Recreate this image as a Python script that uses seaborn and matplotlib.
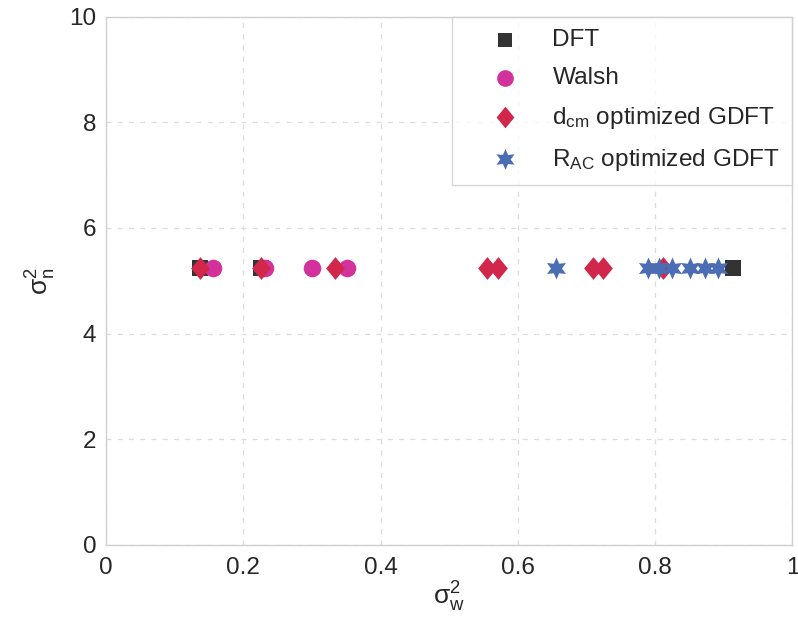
import numpy as np
import pandas as pd
import matplotlib
matplotlib.use("Agg")
import matplotlib.pyplot as plt
import seaborn as sns
from matplotlib.path import Path

# sigma_w^2 values for each transform (all share the same sigma_n^2)
dft_x = [0.137, 0.226, 0.914]
walsh_x = [0.155, 0.232, 0.300, 0.351]
dcm_x = [0.137, 0.226, 0.334, 0.555, 0.571, 0.710, 0.724, 0.812]
rac_x = [0.656, 0.789, 0.805, 0.825, 0.851, 0.873, 0.891]
sigma_n2 = 5.24

labels = ["DFT", "Walsh",
          r"$\mathregular{d_{cm}}$ optimized GDFT",
          r"$\mathregular{R_{AC}}$ optimized GDFT"]
series = [dft_x, walsh_x, dcm_x, rac_x]

df = pd.DataFrame({
    "sw": np.concatenate(series),
    "sn": sigma_n2,
    "method": np.repeat(labels, [len(s) for s in series]),
})

colors = {labels[0]: "#333333", labels[1]: "#d3329c",
          labels[2]: "#d0274b", labels[3]: "#4a6db3"}
diamond = Path([(0, 1), (0.82, 0), (0, -1), (-0.82, 0), (0, 1)],
               [Path.MOVETO, Path.LINETO, Path.LINETO, Path.LINETO, Path.CLOSEPOLY])
markers = {labels[0]: "s", labels[1]: "o", labels[2]: diamond, labels[3]: (6, 1, 0)}
sizes = {labels[0]: 120, labels[1]: 160, labels[2]: 270, labels[3]: 250}

sns.set_style("white")
plt.rcParams["font.family"] = ["Liberation Sans", "DejaVu Sans"]
plt.rcParams["mathtext.fontset"] = "custom"
plt.rcParams["mathtext.rm"] = "Liberation Sans"
plt.rcParams["mathtext.it"] = "Liberation Sans:italic"

fig = plt.figure(figsize=(7.98, 6.17), dpi=100)
ax = fig.add_axes([0.133, 0.117, 0.860, 0.856])

for lab in labels:
    sub = df[df["method"] == lab]
    sns.scatterplot(data=sub, x="sw", y="sn", ax=ax, color=colors[lab],
                    marker=markers[lab], s=sizes[lab], linewidth=0,
                    label=lab, zorder=3)

ax.set_xlim(0, 1)
ax.set_ylim(0, 10)
ax.set_xticks([0, 0.2, 0.4, 0.6, 0.8, 1])
ax.set_xticklabels(["0", "0.2", "0.4", "0.6", "0.8", "1"])
ax.set_yticks([0, 2, 4, 6, 8, 10])
ax.grid(True, linestyle=(0, (4, 5)), color="#dcdcdc", linewidth=0.9)
for sp in ax.spines.values():
    sp.set_color("#d0d0d0")
    sp.set_linewidth(1.0)
ax.tick_params(direction="in", length=4, color="#c8c8c8", labelsize=17.5,
               labelcolor="#262626")
ax.tick_params(axis="x", pad=9)
ax.tick_params(axis="y", pad=7)
ax.set_xlabel(r"$\mathregular{\sigma_w^2}$", fontsize=19, color="#262626", labelpad=0)
ax.set_ylabel(r"$\mathregular{\sigma_n^2}$", fontsize=19, color="#262626", labelpad=8)

leg = ax.legend(loc="upper right", fontsize=17.6, frameon=True, fancybox=False,
                borderaxespad=0.0, labelspacing=0.65, handlelength=3.3,
                handletextpad=0.3, borderpad=0.5, markerscale=0.95)
leg.get_frame().set_edgecolor("#cccccc")
leg.get_frame().set_linewidth(1.0)
for t in leg.get_texts():
    t.set_color("#262626")

fig.savefig("out.png", dpi=100, facecolor="white")
